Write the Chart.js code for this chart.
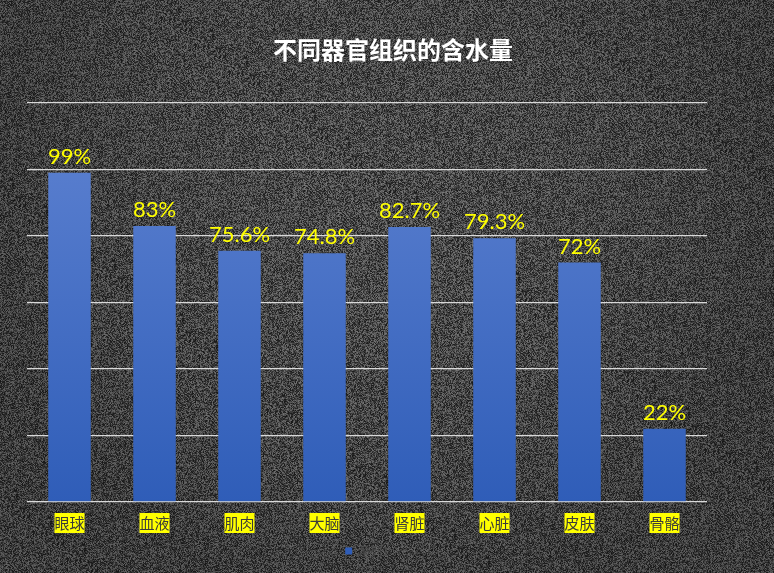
<!DOCTYPE html>
<html>
<head>
<meta charset="utf-8">
<script src="https://cdn.jsdelivr.net/npm/chart.js@4/dist/chart.umd.min.js"></script>
<style>
  html, body { margin: 0; padding: 0; background: #3c3c3c; }
  #wrap { width: 774px; height: 573px; }
</style>
</head>
<body>
<div id="wrap"><canvas id="waterChart" width="774" height="573"></canvas></div>
<script>
const chartTitle = "不同器官组织的含水量";
const organs = ["眼球", "血液", "肌肉", "大脑", "肾脏", "心脏", "皮肤", "骨骼"];
const waterPercent = [99, 83, 75.6, 74.8, 82.7, 79.3, 72, 22];
const seriesName = "系列1";

// grainy dark background, built once
const noise = document.createElement("canvas");
noise.width = 774;
noise.height = 573;
(function () {
  const nctx = noise.getContext("2d");
  const img = nctx.createImageData(774, 573);
  let seed = 12345;
  const rnd = () => {
    seed = (seed * 1103515245 + 12345) & 0x7fffffff;
    return seed / 0x7fffffff;
  };
  for (let y = 0; y < 573; y++) {
    for (let x = 0; x < 774; x++) {
      const dx = (x - 387) / 387, dy = (y - 200) / 400;
      const shade = 1 - 0.18 * Math.min(1, dx * dx + dy * dy);
      const v = (25 + rnd() * 95) * shade;
      const i = (y * 774 + x) * 4;
      img.data[i] = img.data[i + 1] = img.data[i + 2] = v;
      img.data[i + 3] = 255;
    }
  }
  nctx.putImageData(img, 0, 0);
})();

// background + title (title is centred on the whole picture, not the plot)
const backgroundPlugin = {
  id: "grainBg",
  beforeDraw(chart) {
    const ctx = chart.ctx;
    ctx.drawImage(noise, 0, 0);
    ctx.save();
    ctx.fillStyle = "#ffffff";
    ctx.font = "bold 24px 'Noto Sans CJK SC', sans-serif";
    ctx.textAlign = "center";
    ctx.textBaseline = "middle";
    ctx.fillText(chartTitle, 393, 50);
    ctx.restore();
  },
};

// yellow value labels above each bar
const valueLabels = {
  id: "valueLabels",
  afterDatasetsDraw(chart) {
    const ctx = chart.ctx;
    const meta = chart.getDatasetMeta(0);
    ctx.save();
    ctx.fillStyle = "#ffff00";
    ctx.font = "22px Lato, 'Noto Sans', sans-serif";
    ctx.textAlign = "center";
    ctx.textBaseline = "alphabetic";
    meta.data.forEach((bar, i) => {
      ctx.fillText(waterPercent[i] + "%", bar.x, bar.y - 9);
    });
    ctx.restore();
  },
};

const ctx = document.getElementById("waterChart").getContext("2d");

new Chart(ctx, {
  type: "bar",
  data: {
    labels: organs,
    datasets: [
      {
        label: seriesName,
        data: waterPercent,
        backgroundColor: (c) => {
          const area = c.chart.chartArea;
          if (!area) return "#4a72c8";
          const g = c.chart.ctx.createLinearGradient(0, area.top, 0, area.bottom);
          g.addColorStop(0, "#5f83d2");
          g.addColorStop(1, "#2f5db8");
          return g;
        },
        categoryPercentage: 1,
        barPercentage: 0.5,
      },
    ],
  },
  options: {
    responsive: false,
    animation: false,
    layout: { padding: { top: 103, left: 27, right: 67, bottom: 6 } },
    plugins: {
      title: { display: false },
      legend: {
        position: "bottom",
        labels: {
          color: "#4a4a4a",
          boxWidth: 7,
          boxHeight: 7,
          padding: 9,
          font: { size: 12, family: "'Noto Sans CJK SC', sans-serif" },
        },
      },
      tooltip: { enabled: false },
    },
    scales: {
      x: {
        grid: { display: false },
        border: { display: false },
        ticks: {
          color: "#3a3a3a",
          font: { size: 15, family: "'Noto Sans CJK SC', sans-serif" },
          showLabelBackdrop: true,
          backdropColor: "#ffff00",
          backdropPadding: { top: 1, bottom: 1, left: 0, right: 0 },
          padding: 4,
        },
      },
      y: {
        min: 0,
        max: 120,
        ticks: { display: false, stepSize: 20 },
        border: { display: false },
        grid: { color: "#d9d9d9", lineWidth: 1.3, drawTicks: false },
      },
    },
  },
  plugins: [backgroundPlugin, valueLabels],
});
</script>
</body>
</html>
